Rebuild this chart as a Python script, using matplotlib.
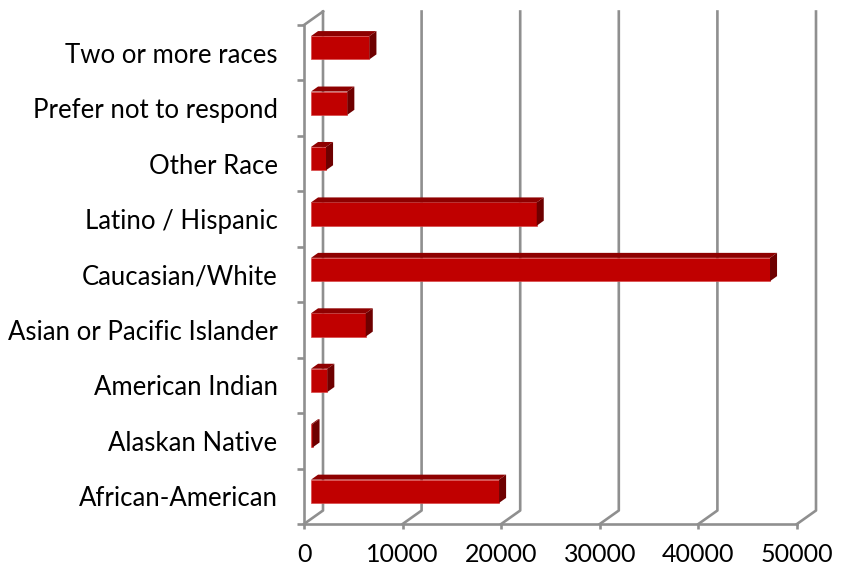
import numpy as np
import matplotlib
import matplotlib.pyplot as plt
import matplotlib.transforms as mtransforms
from matplotlib.patches import Polygon
from matplotlib.lines import Line2D

matplotlib.use('Agg')

# Datos: población por raza/etnia
categorias = ['African-American', 'Alaskan Native', 'American Indian',
              'Asian or Pacific Islander', 'Caucasian/White', 'Latino / Hispanic',
              'Other Race', 'Prefer not to respond', 'Two or more races']
valores = [19070, 150, 1650, 5550, 46550, 22890, 1520, 3680, 5920]
ticks_x = [0, 10000, 20000, 30000, 40000, 50000]
etiquetas_x = ['0', '10000', '20000', '30000', '40000', '50000']

plt.rcParams['font.family'] = ['Lato', 'DejaVu Sans']

GRIS = '#8f8f8f'
ROJO = '#C00000'
ROJO_ARRIBA = '#8E0000'
ROJO_LADO = '#6E0000'
PROF = (19, 13.5)        # vector de profundidad (px) del plano frontal al fondo
F0, F1 = 0.37, 0.74      # profundidad de la cara frontal y trasera de las barras
ALTO = 0.42

fig = plt.figure(figsize=(8.56, 5.71), dpi=100)
ax = fig.add_axes([304 / 856, 47 / 571, 493 / 856, 499 / 571])
ax.set_xlim(0, 50000)
ax.set_ylim(-0.5, len(categorias) - 0.5)
ax.patch.set_visible(False)
ident = mtransforms.IdentityTransform()


def punto(x, y, f):
    px, py = ax.transData.transform((x, y))
    return (px + f * PROF[0], py + f * PROF[1])


y0, y1 = ax.get_ylim()

# Pared del fondo: líneas de cuadrícula con su diagonal en el piso
for t in ticks_x:
    p = [punto(t, y0, 0), punto(t, y0, 1), punto(t, y1, 1)]
    ax.add_artist(Line2D([q[0] for q in p], [q[1] for q in p], transform=ident,
                         color=GRIS, lw=1.9, clip_on=False, zorder=1))
p = [punto(0, y1, 0), punto(0, y1, 1)]
ax.add_artist(Line2D([q[0] for q in p], [q[1] for q in p], transform=ident,
                     color=GRIS, lw=1.9, clip_on=False, zorder=1))

# Barras: cara frontal
desplaz = mtransforms.ScaledTranslation(F0 * PROF[0] / 100, F0 * PROF[1] / 100,
                                        fig.dpi_scale_trans)
pos = np.arange(len(categorias))
ax.barh(pos, valores, height=ALTO, color=ROJO, edgecolor='#D84848', linewidth=0.5,
        transform=ax.transData + desplaz, clip_on=False, zorder=3)

# Barras: cara superior y lateral
for i, v in zip(pos, valores):
    yt, yb = i + ALTO / 2, i - ALTO / 2
    arriba = [punto(0, yt, F0), punto(v, yt, F0), punto(v, yt, F1), punto(0, yt, F1)]
    lado = [punto(v, yb, F0), punto(v, yt, F0), punto(v, yt, F1), punto(v, yb, F1)]
    ax.add_artist(Polygon(arriba, closed=True, transform=ident, facecolor=ROJO_ARRIBA,
                          edgecolor='none', clip_on=False, zorder=3))
    ax.add_artist(Polygon(lado, closed=True, transform=ident, facecolor=ROJO_LADO,
                          edgecolor='none', clip_on=False, zorder=3))

# Ejes frontales
for lado_eje in ['top', 'right']:
    ax.spines[lado_eje].set_visible(False)
for lado_eje in ['left', 'bottom']:
    ax.spines[lado_eje].set_color(GRIS)
    ax.spines[lado_eje].set_linewidth(1.9)

ax.set_xticks(ticks_x, etiquetas_x)
ax.tick_params(axis='x', length=3.6, width=1.9, color=GRIS, pad=10, labelsize=18)
ax.set_yticks(pos, categorias)
ax.set_yticks(np.arange(-0.5, len(categorias), 1), minor=True)
ax.tick_params(axis='y', which='major', length=0, pad=19, labelsize=18.5)
ax.tick_params(axis='y', which='minor', length=5, width=1.9, color=GRIS)

plt.savefig('out.png', dpi=100)
